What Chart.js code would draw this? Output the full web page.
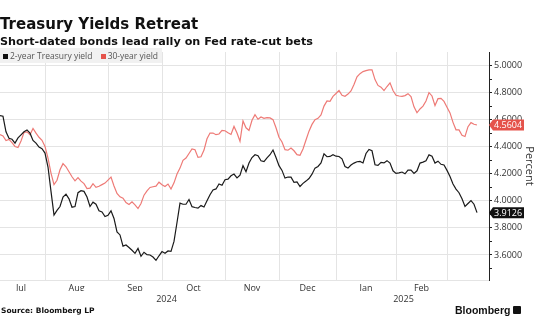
<!DOCTYPE html>
<html>
<head>
<meta charset="utf-8">
<script src="https://cdn.jsdelivr.net/npm/chart.js@4.4.1/dist/chart.umd.min.js"></script>
<style>
  html, body { margin: 0; padding: 0; background: #fff; }
  #wrap { position: relative; width: 540px; height: 336px; overflow: hidden; }
  #chart { position: absolute; left: 0; top: 0; }
  .hd { position: absolute; left: 0; font-family: 'DejaVu Sans'; font-weight: bold; color: #111; white-space: nowrap; }
  #title { top: 17px; font-size: 15px; line-height: 15px; }
  #subtitle { top: 35.5px; font-size: 11.2px; line-height: 11.2px; }
  #legend { position: absolute; left: 0; top: 48px; height: 15px; width: 162px; background: #f1f1f1;
            font: 8.5px 'Open Sans'; color: #555; line-height: 15px; white-space: nowrap; }
  #legend .sw { display: inline-block; width: 5px; height: 5px; margin: 0 2px 0 3px; vertical-align: 0px; }
  #source { position: absolute; left: 1px; top: 307px; font: bold 7.5px 'DejaVu Sans'; line-height: 7.5px; color: #111; }
  #brand { position: absolute; left: 455px; top: 305px; font: bold 10.5px 'Liberation Sans'; line-height: 10.5px; color: #111; }
  #brand .ico { display: inline-block; width: 8px; height: 8px; background: #111; border-radius: 1px; margin-left: 3px; vertical-align: 0px; }
</style>
</head>
<body>
<div id="wrap">
  <canvas id="chart" width="540" height="336"></canvas>
  <div id="title" class="hd">Treasury Yields Retreat</div>
  <div id="subtitle" class="hd">Short-dated bonds lead rally on Fed rate-cut bets</div>
  <div id="legend"><span class="sw" style="background:#111"></span>2-year Treasury yield <span class="sw" style="background:#e5534b;margin-left:6px"></span>30-year yield</div>
  <div id="source">Source: Bloomberg LP</div>
  <div id="brand">Bloomberg<span class="ico"></span></div>
</div>
<script>
// daily closes, Jul 2024 - Mar 2025 (one entry per trading day)
const twoYear = [
  4.630, 4.625, 4.510, 4.462, 4.455, 4.427, 4.465, 4.488, 4.510, 4.524,
  4.500, 4.447, 4.427, 4.397, 4.386, 4.353, 4.250, 4.070, 3.895, 3.930,
  3.958, 4.028, 4.050, 4.015, 3.953, 3.958, 4.060, 4.075, 4.070, 4.028,
  3.958, 3.990, 3.975, 3.926, 3.918, 3.884, 3.893, 3.926, 3.870, 3.770,
  3.748, 3.665, 3.674, 3.655, 3.635, 3.612, 3.648, 3.590, 3.620, 3.602,
  3.600, 3.585, 3.560, 3.594, 3.625, 3.613, 3.630, 3.627, 3.700, 3.840,
  3.983, 3.975, 3.975, 4.010, 3.957, 3.951, 3.946, 3.965, 3.955, 4.000,
  4.045, 4.080, 4.088, 4.125, 4.115, 4.156, 4.160, 4.185, 4.198, 4.170,
  4.190, 4.260, 4.215, 4.280, 4.320, 4.341, 4.333, 4.296, 4.290, 4.318,
  4.341, 4.376, 4.320, 4.260, 4.225, 4.168, 4.176, 4.175, 4.137, 4.140,
  4.106, 4.129, 4.146, 4.165, 4.197, 4.242, 4.254, 4.280, 4.348, 4.326,
  4.328, 4.341, 4.330, 4.328, 4.310, 4.254, 4.242, 4.265, 4.279, 4.289,
  4.291, 4.280, 4.350, 4.380, 4.370, 4.267, 4.262, 4.284, 4.280, 4.297,
  4.279, 4.222, 4.203, 4.207, 4.213, 4.200, 4.227, 4.228, 4.202, 4.222,
  4.279, 4.286, 4.296, 4.340, 4.330, 4.279, 4.293, 4.270, 4.265, 4.225,
  4.180, 4.125, 4.087, 4.060, 4.015, 3.958, 3.980, 4.002, 3.975, 3.9126
];
const thirtyYear = [
  4.489, 4.480, 4.445, 4.454, 4.430, 4.402, 4.394, 4.442, 4.505, 4.510,
  4.489, 4.535, 4.500, 4.470, 4.447, 4.402, 4.315, 4.205, 4.120, 4.152,
  4.230, 4.275, 4.252, 4.215, 4.178, 4.148, 4.172, 4.146, 4.127, 4.090,
  4.094, 4.127, 4.100, 4.108, 4.120, 4.131, 4.153, 4.175, 4.110, 4.055,
  4.030, 4.020, 3.987, 3.973, 3.993, 3.970, 3.943, 3.980, 4.042, 4.074,
  4.099, 4.104, 4.109, 4.138, 4.119, 4.106, 4.124, 4.087, 4.133, 4.198,
  4.242, 4.299, 4.316, 4.350, 4.383, 4.378, 4.321, 4.326, 4.375, 4.459,
  4.501, 4.501, 4.489, 4.494, 4.521, 4.518, 4.504, 4.491, 4.550, 4.501,
  4.440, 4.590, 4.540, 4.520, 4.595, 4.637, 4.603, 4.620, 4.610, 4.615,
  4.613, 4.600, 4.540, 4.470, 4.435, 4.378, 4.374, 4.390, 4.370, 4.341,
  4.336, 4.383, 4.450, 4.515, 4.565, 4.600, 4.610, 4.635, 4.700, 4.738,
  4.736, 4.772, 4.793, 4.815, 4.780, 4.773, 4.789, 4.812, 4.860, 4.917,
  4.940, 4.955, 4.962, 4.968, 4.968, 4.896, 4.853, 4.840, 4.815, 4.845,
  4.872, 4.815, 4.780, 4.775, 4.772, 4.778, 4.792, 4.770, 4.695, 4.651,
  4.679, 4.700, 4.738, 4.800, 4.775, 4.704, 4.755, 4.757, 4.735, 4.692,
  4.650, 4.580, 4.525, 4.524, 4.485, 4.476, 4.548, 4.578, 4.566, 4.5604
];

// month spans, in trading-day index (first entry = start of Jul, last = start of Mar)
const monthStarts = [-1, 15, 36, 54, 75, 93, 112, 132, 149];
const monthLabels = ['Jul', 'Aug', 'Sep', 'Oct', 'Nov', 'Dec', 'Jan', 'Feb'];
const yearLabels = ['2024', '2025'];
const yearCenters = [55.5, 134.5];
const yTicks = [3.6, 3.8, 4.0, 4.2, 4.4, 4.6, 4.8, 5.0];
const yMinorTicks = [3.5, 3.7, 3.9, 4.1, 4.3, 4.5, 4.7, 4.9];

const seriesNames = ['2-year Treasury yield', '30-year yield'];
const lineColors = ['#1a1a1a', '#ee7a76'];
const tagColors = ['#111111', '#e5534b'];

const gridGray = '#e4e4e4';
const tickFont = { family: 'Open Sans', size: 9 };

const monthMids = monthLabels.map((m, i) => (monthStarts[i] + monthStarts[i + 1]) / 2);

// value boxes at the right axis for the last point of each line
const lastValueTags = {
    id: 'lastValueTags',
    afterDraw(chart) {
        const ctx = chart.ctx;
        const ys = chart.scales.y;
        const x0 = ys.left;
        chart.data.datasets.forEach(function (ds, i) {
            const v = ds.data[ds.data.length - 1].y;
            const y = ys.getPixelForValue(v);
            ctx.save();
            ctx.fillStyle = tagColors[i];
            ctx.beginPath();
            ctx.moveTo(x0, y);
            ctx.lineTo(x0 + 4, y - 5.5);
            ctx.lineTo(x0 + 35, y - 5.5);
            ctx.lineTo(x0 + 35, y + 5.5);
            ctx.lineTo(x0 + 4, y + 5.5);
            ctx.closePath();
            ctx.fill();
            ctx.fillStyle = '#fff';
            ctx.font = '9px "Open Sans"';
            ctx.textBaseline = 'middle';
            ctx.fillText(v.toFixed(4), x0 + 5, y + 0.5);
            ctx.restore();
        });
    }
};

const ctx = document.getElementById('chart').getContext('2d');
const chart = new Chart(ctx, {
    type: 'line',
    data: {
        datasets: [
            {
                label: seriesNames[0],
                data: twoYear.map((v, i) => ({ x: i, y: v })),
                borderColor: lineColors[0],
                borderWidth: 1.2
            },
            {
                label: seriesNames[1],
                data: thirtyYear.map((v, i) => ({ x: i, y: v })),
                borderColor: lineColors[1],
                borderWidth: 1.2
            }
        ]
    },
    options: {
        responsive: false,
        animation: false,
        devicePixelRatio: 1,
        layout: { padding: { left: 0, right: 0, top: 52, bottom: 34 } },
        elements: { point: { radius: 0 }, line: { tension: 0 } },
        plugins: { legend: { display: false }, tooltip: { enabled: false } },
        scales: {
            x: {
                type: 'linear', position: 'bottom', weight: 0, min: 0, max: 163,
                grid: { color: gridGray, drawTicks: false },
                border: { display: true, color: gridGray },
                ticks: { display: false },
                afterBuildTicks: s => { s.ticks = monthStarts.slice(1).map(v => ({ value: v })); },
                afterFit: s => { s.height = 0; }
            },
            months: {
                type: 'linear', position: 'bottom', weight: 1, min: 0, max: 163,
                grid: { display: false, drawTicks: false },
                border: { display: false },
                ticks: {
                    autoSkip: false, maxRotation: 0, padding: 3, color: '#333', font: tickFont,
                    callback: (v, i) => monthLabels[i]
                },
                afterBuildTicks: s => { s.ticks = monthMids.map(v => ({ value: v })); },
                afterFit: s => { s.height = 11; }
            },
            years: {
                type: 'linear', position: 'bottom', weight: 2, min: 0, max: 163,
                grid: { display: false, drawTicks: false },
                border: { display: false },
                ticks: {
                    autoSkip: false, maxRotation: 0, padding: 3, color: '#333', font: tickFont,
                    callback: (v, i) => yearLabels[i]
                },
                afterBuildTicks: s => { s.ticks = yearCenters.map(v => ({ value: v })); },
                afterFit: s => { s.height = 11; }
            },
            y: {
                type: 'linear', position: 'right', min: 3.415, max: 5.1,
                grid: {
                    color: c => (c.tick && c.tick.minor) ? 'rgba(0,0,0,0)' : gridGray,
                    tickColor: '#222', tickLength: 3
                },
                border: { display: true, color: '#222', width: 1 },
                ticks: {
                    padding: 2, color: '#333', font: tickFont,
                    callback: function (v, i, ticks) { return ticks[i].minor ? '' : v.toFixed(4); }
                },
                title: {
                    display: true, text: 'Percent', color: '#333',
                    font: { family: 'Open Sans', size: 11 }, padding: { top: 4.5, bottom: 0 }
                },
                afterBuildTicks: s => {
                    const all = yTicks.map(v => ({ value: v }))
                        .concat(yMinorTicks.map(v => ({ value: v, minor: true })));
                    all.sort((a, b) => a.value - b.value);
                    s.ticks = all;
                },
                afterFit: s => { s.width = 51; }
            }
        }
    },
    plugins: [lastValueTags]
});
</script>
</body>
</html>
